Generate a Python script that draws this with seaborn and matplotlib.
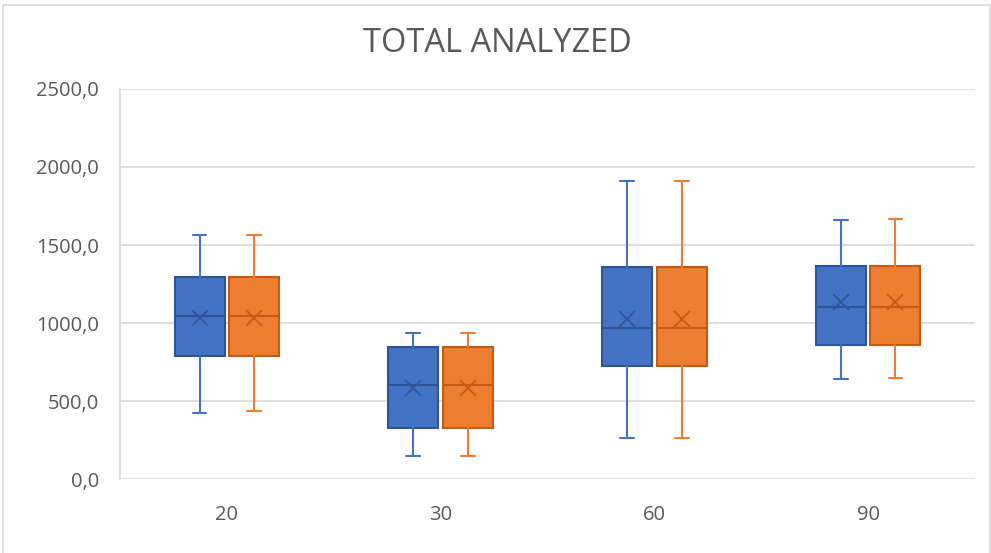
import numpy as np
import matplotlib.pyplot as plt
import seaborn as sns
from matplotlib.patches import Rectangle
from matplotlib.ticker import FuncFormatter

# ---- Data ----
categories = ["20", "30", "60", "90"]

blue_min = [426, 150, 260, 641]
blue_q1 = [788, 327, 724, 859]
blue_med = [1045, 603, 968, 1105]
blue_q3 = [1295, 848, 1359, 1365]
blue_max = [1564, 938, 1912, 1660]
blue_mean = [1035, 583, 1025, 1136]

orange_min = [438, 150, 260, 645]
orange_q1 = [788, 330, 726, 860]
orange_med = [1045, 603, 968, 1105]
orange_q3 = [1295, 848, 1359, 1365]
orange_max = [1564, 938, 1912, 1665]
orange_mean = [1035, 583, 1025, 1136]

sns.set_theme(style="white")
plt.rcParams['font.family'] = ['Open Sans', 'DejaVu Sans']

text_color = "#595959"
grid_color = "#D9D9D9"
fills = sns.color_palette(["#4472C4", "#ED7D31"])
edges = ["#2F5597", "#C55A11"]

fig = plt.figure(figsize=(9.91, 5.53), dpi=100)
ax = fig.add_axes([120 / 991, 74 / 553, 855 / 991, 390 / 553])

series = [
    (blue_min, blue_q1, blue_med, blue_q3, blue_max, blue_mean),
    (orange_min, orange_q1, orange_med, orange_q3, orange_max, orange_mean),
]
offsets = [-0.128, 0.128]

for si, (lo, q1, med, q3, hi, mean) in enumerate(series):
    stats = []
    for i in range(len(categories)):
        stats.append(dict(whislo=lo[i], q1=q1[i], med=med[i], q3=q3[i],
                          whishi=hi[i], mean=mean[i], fliers=[]))
    ax.bxp(stats, positions=np.arange(len(categories)) + offsets[si],
           widths=0.234, capwidths=0.065, showmeans=True, showfliers=False,
           patch_artist=True, manage_ticks=False,
           boxprops=dict(facecolor=fills[si], edgecolor=edges[si], linewidth=1.5),
           whiskerprops=dict(color=fills[si], linewidth=1.5),
           capprops=dict(color=fills[si], linewidth=1.5),
           medianprops=dict(color=edges[si], linewidth=1.5),
           meanprops=dict(marker='x', markeredgecolor=edges[si],
                          markersize=11, markeredgewidth=1.3))

ax.set_xlim(-0.5, 3.5)
ax.set_ylim(0, 2500)
ax.set_yticks(np.arange(0, 2501, 500))
ax.yaxis.set_major_formatter(FuncFormatter(lambda v, p: f"{v:.1f}".replace(".", ",")))
ax.set_xticks(range(len(categories)))
ax.set_xticklabels(categories)

ax.grid(axis='y', color=grid_color, linewidth=1.2)
ax.set_axisbelow(True)
for side in ['top', 'right', 'bottom']:
    ax.spines[side].set_visible(False)
ax.spines['left'].set_color(grid_color)
ax.spines['left'].set_linewidth(1.2)
ax.tick_params(axis='y', length=0, pad=15, labelsize=14.5, labelcolor=text_color)
ax.tick_params(axis='x', length=0, pad=19, labelsize=14.5, labelcolor=text_color)

fig.text(497 / 991, 1 - 44 / 553, "TOTAL ANALYZED", ha='center', va='center',
         fontsize=23.5, color=text_color)

fig.patches.append(Rectangle((3 / 991, -0.02), 987 / 991, 1.02 - 5 / 553,
                             transform=fig.transFigure, fill=False,
                             edgecolor=grid_color, linewidth=1.2))

fig.savefig("out.png", dpi=100)
